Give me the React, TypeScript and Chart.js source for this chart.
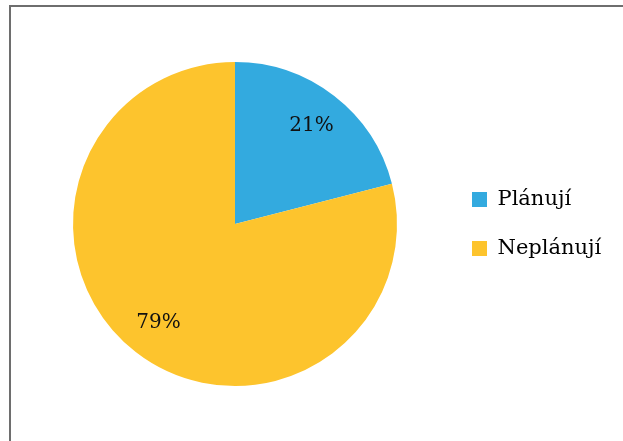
import React, { useEffect, useRef } from "react";
import { Chart, registerables } from "chart.js";

Chart.register(...registerables);

const categories = ["Plánují", "Neplánují"];
const values = [21, 79];
const colors = ["#33aadf", "#fdc42d"];

const FONT = "'DejaVu Serif', 'Liberation Serif', serif";
const LEGEND_SIZE = 21;
const LEGEND_PAD = 28;
const BOX = 15;

const sliceLabels = {
  id: "sliceLabels",
  afterDatasetsDraw(chart: any) {
    const ctx = chart.ctx;
    const meta = chart.getDatasetMeta(0);
    const data = chart.data.datasets[0].data as number[];
    ctx.save();
    ctx.font = `20px ${FONT}`;
    ctx.fillStyle = "#111111";
    ctx.textAlign = "center";
    ctx.textBaseline = "middle";
    meta.data.forEach((arc: any, i: number) => {
      const mid = (arc.startAngle + arc.endAngle) / 2;
      const r = arc.outerRadius * 0.77;
      const x = arc.x + Math.cos(mid) * r;
      const y = arc.y + Math.sin(mid) * r;
      ctx.fillText(`${data[i]}%`, x, y);
    });
    ctx.restore();
  },
};

export default function App() {
  const ref = useRef<HTMLCanvasElement | null>(null);
  useEffect(() => {
    if (!ref.current) return;
    const mctx = document.createElement("canvas").getContext("2d")!;
    mctx.font = `${LEGEND_SIZE}px ${FONT}`;
    const textW = Math.max(...categories.map((c) => mctx.measureText(c).width));
    const legendW = LEGEND_PAD + BOX + LEGEND_SIZE / 2 + textW + 10;
    const chartRight = 444;
    const padRight = Math.max(0, 623 - chartRight - legendW);
    const chart = new Chart(ref.current, {
      type: "pie",
      data: {
        labels: categories,
        datasets: [
          {
            data: values,
            backgroundColor: colors,
            borderWidth: 0,
          },
        ],
      },
      options: {
        animation: false,
        responsive: false,
        devicePixelRatio: 1,
        layout: { padding: { left: 26, top: 62, bottom: 55, right: padRight } },
        plugins: {
          tooltip: { enabled: false },
          legend: {
            position: "right",
            labels: {
              boxWidth: BOX,
              boxHeight: BOX,
              padding: LEGEND_PAD,
              color: "#000000",
              font: { family: FONT, size: LEGEND_SIZE },
            },
          },
        },
      },
      plugins: [sliceLabels],
    });
    return () => chart.destroy();
  }, []);
  return (
    <div
      style={{
        position: "absolute",
        left: 0,
        top: 0,
        width: 623,
        height: 441,
        overflow: "hidden",
        background: "#ffffff",
      }}
    >
      <div
        style={{
          position: "absolute",
          left: 9,
          top: 5,
          width: 700,
          height: 500,
          border: "2px solid #6e6e6e",
          boxSizing: "border-box",
        }}
      />
      <canvas
        ref={ref}
        width={623}
        height={441}
        style={{ position: "absolute", left: 0, top: 0, width: 623, height: 441 }}
      />
    </div>
  );
}
